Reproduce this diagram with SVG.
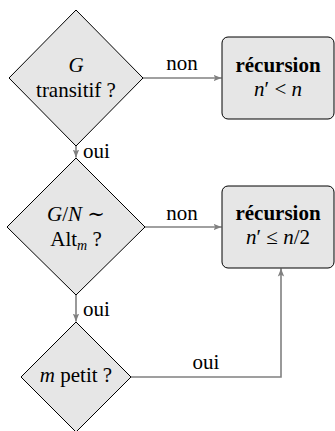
<svg xmlns="http://www.w3.org/2000/svg" width="335" height="431" viewBox="0 0 335 431">
<style>
.node{fill:#e6e6e6;stroke:#000;stroke-width:1}
.t{font-size:21px;fill:#000;text-anchor:middle}
.tl{font-size:21px;fill:#000}
.i{font-style:italic}
.b{font-weight:bold}
.edge{fill:none;stroke:#808080;stroke-width:1.6}
</style>
<defs>
<marker id="arr" markerUnits="userSpaceOnUse" markerWidth="10" markerHeight="8" refX="8" refY="4" orient="auto">
<path d="M0,0.8 L8,4 L0,7.2 L1.8,4 Z" fill="#808080"/>
</marker>
</defs>
<rect width="335" height="431" fill="#fff"/>
<g font-family="Liberation Serif, DejaVu Serif, Times New Roman, serif">
<g id="edges">
<path class="edge" d="M143,78 H221.5" marker-end="url(#arr)"/>
<path class="edge" d="M76,146 V157.5" marker-end="url(#arr)"/>
<path class="edge" d="M145,227 H221.5" marker-end="url(#arr)"/>
<path class="edge" d="M76,295 V321.5" marker-end="url(#arr)"/>
<path class="edge" d="M131,377 H281 V268.5" marker-end="url(#arr)"/>
<text class="t" x="182" y="70">non</text>
<text class="tl" x="83" y="158">oui</text>
<text class="t" x="182" y="220">non</text>
<text class="tl" x="83" y="316">oui</text>
<text class="t" x="206" y="369">oui</text>
</g>
<g id="d1">
<path class="node" d="M76,10 L143,78 L76,146 L9,78 Z"/>
<text class="t" x="76" y="72"><tspan class="i">G</tspan></text>
<text class="t" x="76" y="97">transitif ?</text>
</g>
<g id="r1">
<rect class="node" x="222" y="37" width="112" height="82" rx="6"/>
<text class="t b" x="278" y="72">récursion</text>
<text class="t" x="278" y="96"><tspan class="i">n</tspan>′ &lt; <tspan class="i">n</tspan></text>
</g>
<g id="d2">
<path class="node" d="M76,158 L145,227 L76,295 L7,227 Z"/>
<text class="t" x="76" y="221"><tspan class="i">G</tspan>/<tspan class="i">N</tspan> ∼</text>
<text class="t" x="76" y="246">Alt<tspan class="i" font-size="14" dy="4">m</tspan><tspan dy="-4"> ?</tspan></text>
</g>
<g id="r2">
<rect class="node" x="222" y="186" width="112" height="82" rx="6"/>
<text class="t b" x="278" y="220">récursion</text>
<text class="t" x="278" y="244"><tspan class="i">n</tspan>′ ≤ <tspan class="i">n</tspan>/2</text>
</g>
<g id="d3">
<path class="node" d="M76,322 L131,377 L76,432 L21,377 Z"/>
<text class="t" x="76" y="382"><tspan class="i">m</tspan> petit ?</text>
</g>
</g>
</svg>
